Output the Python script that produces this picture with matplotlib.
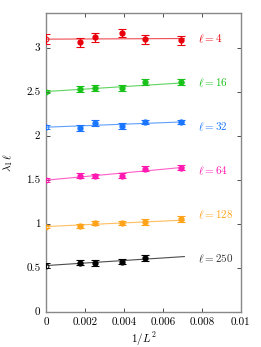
import numpy as np
import matplotlib.pyplot as plt

plt.rcParams['font.family'] = 'serif'
plt.rcParams['font.serif'] = ['cmr10']
plt.rcParams['mathtext.fontset'] = 'cm'
plt.rcParams['axes.formatter.use_mathtext'] = True

# --- data ---
L = np.array([24, 20, 16, 14, 12])
x = 1.0 / L**2
ells = [4, 16, 32, 64, 128, 250]
colors = ['#e8000b', '#19c219', '#1a75ff', '#ff19b0', '#ffa31a', '#000000']

y_red = [3.057, 3.114, 3.167, 3.095, 3.080]
y_green = [2.531, 2.539, 2.542, 2.607, 2.607]
y_blue = [2.084, 2.140, 2.107, 2.152, 2.152]
y_pink = [1.545, 1.542, 1.545, 1.625, 1.636]
y_orange = [0.974, 1.004, 1.008, 1.019, 1.048]
y_black = [0.557, 0.553, 0.568, 0.610]

e_red = [0.055, 0.055, 0.045, 0.050, 0.055]
e_green = [0.035, 0.030, 0.035, 0.035, 0.035]
e_blue = [0.035, 0.035, 0.030, 0.025, 0.025]
e_pink = [0.025, 0.025, 0.030, 0.025, 0.030]
e_orange = [0.025, 0.025, 0.025, 0.030, 0.035]
e_black = [0.025, 0.030, 0.025, 0.030]

# extrapolated values (1/L^2 -> 0) and fit slopes
y0 = [3.095, 2.500, 2.095, 1.493, 0.966, 0.523]
e0 = [0.055, 0.020, 0.020, 0.020, 0.020, 0.030]
slope = [1.0, 14.0, 8.5, 20.7, 10.4, 14.4]

series = [y_red, y_green, y_blue, y_pink, y_orange, y_black]
errs = [e_red, e_green, e_blue, e_pink, e_orange, e_black]
label_y = [3.095, 2.60, 2.10, 1.60, 1.095, 0.60]

fig = plt.figure(figsize=(2.61, 3.47), dpi=100)
ax = fig.add_axes([0.176, 0.102, 0.747, 0.860])

xfit = np.linspace(0, 0.0071, 20)
for i in range(6):
    c = colors[i]
    n = len(series[i])
    ax.plot(xfit, y0[i] + slope[i] * xfit, color=c, lw=0.8, alpha=0.7, zorder=2)
    ax.errorbar(x[:n], series[i], yerr=errs[i], fmt='o', color=c, ms=3.5,
                capsize=3, elinewidth=0.8, capthick=0.8, zorder=3)
    ax.errorbar([0], [y0[i]], yerr=[e0[i]], fmt='o', mfc='none', mec=c, ecolor=c,
                ms=3.5, mew=0.7, capsize=3, elinewidth=0.7, capthick=0.7, zorder=3)
    tc = '#333333' if c == '#000000' else c
    ax.text(0.00779, label_y[i], r'$\ell = %d$' % ells[i], color=tc,
            fontsize=8, va='center', ha='left')

ax.set_xlim(0, 0.01)
ax.set_ylim(0, 3.39)
ax.set_xticks([0, 0.002, 0.004, 0.006, 0.008, 0.01])
ax.set_xticklabels(['0', '0.002', '0.004', '0.006', '0.008', '0.01'])
ax.set_yticks([0, 0.5, 1, 1.5, 2, 2.5, 3])
ax.set_yticklabels(['0', '0.5', '1', '1.5', '2', '2.5', '3'])
ax.tick_params(direction='in', top=True, right=True, labelsize=8,
               length=3, width=0.6, color='#333333', pad=4)
for s in ax.spines.values():
    s.set_color('#888888')
    s.set_linewidth(1.0)
ax.set_xlabel(r'$1/L^2$', fontsize=8, labelpad=3)
ax.set_ylabel(r'$\lambda_1\,\ell$', fontsize=8)
ax.yaxis.set_label_coords(-0.16, 0.5)

fig.savefig('out.png', dpi=100)
